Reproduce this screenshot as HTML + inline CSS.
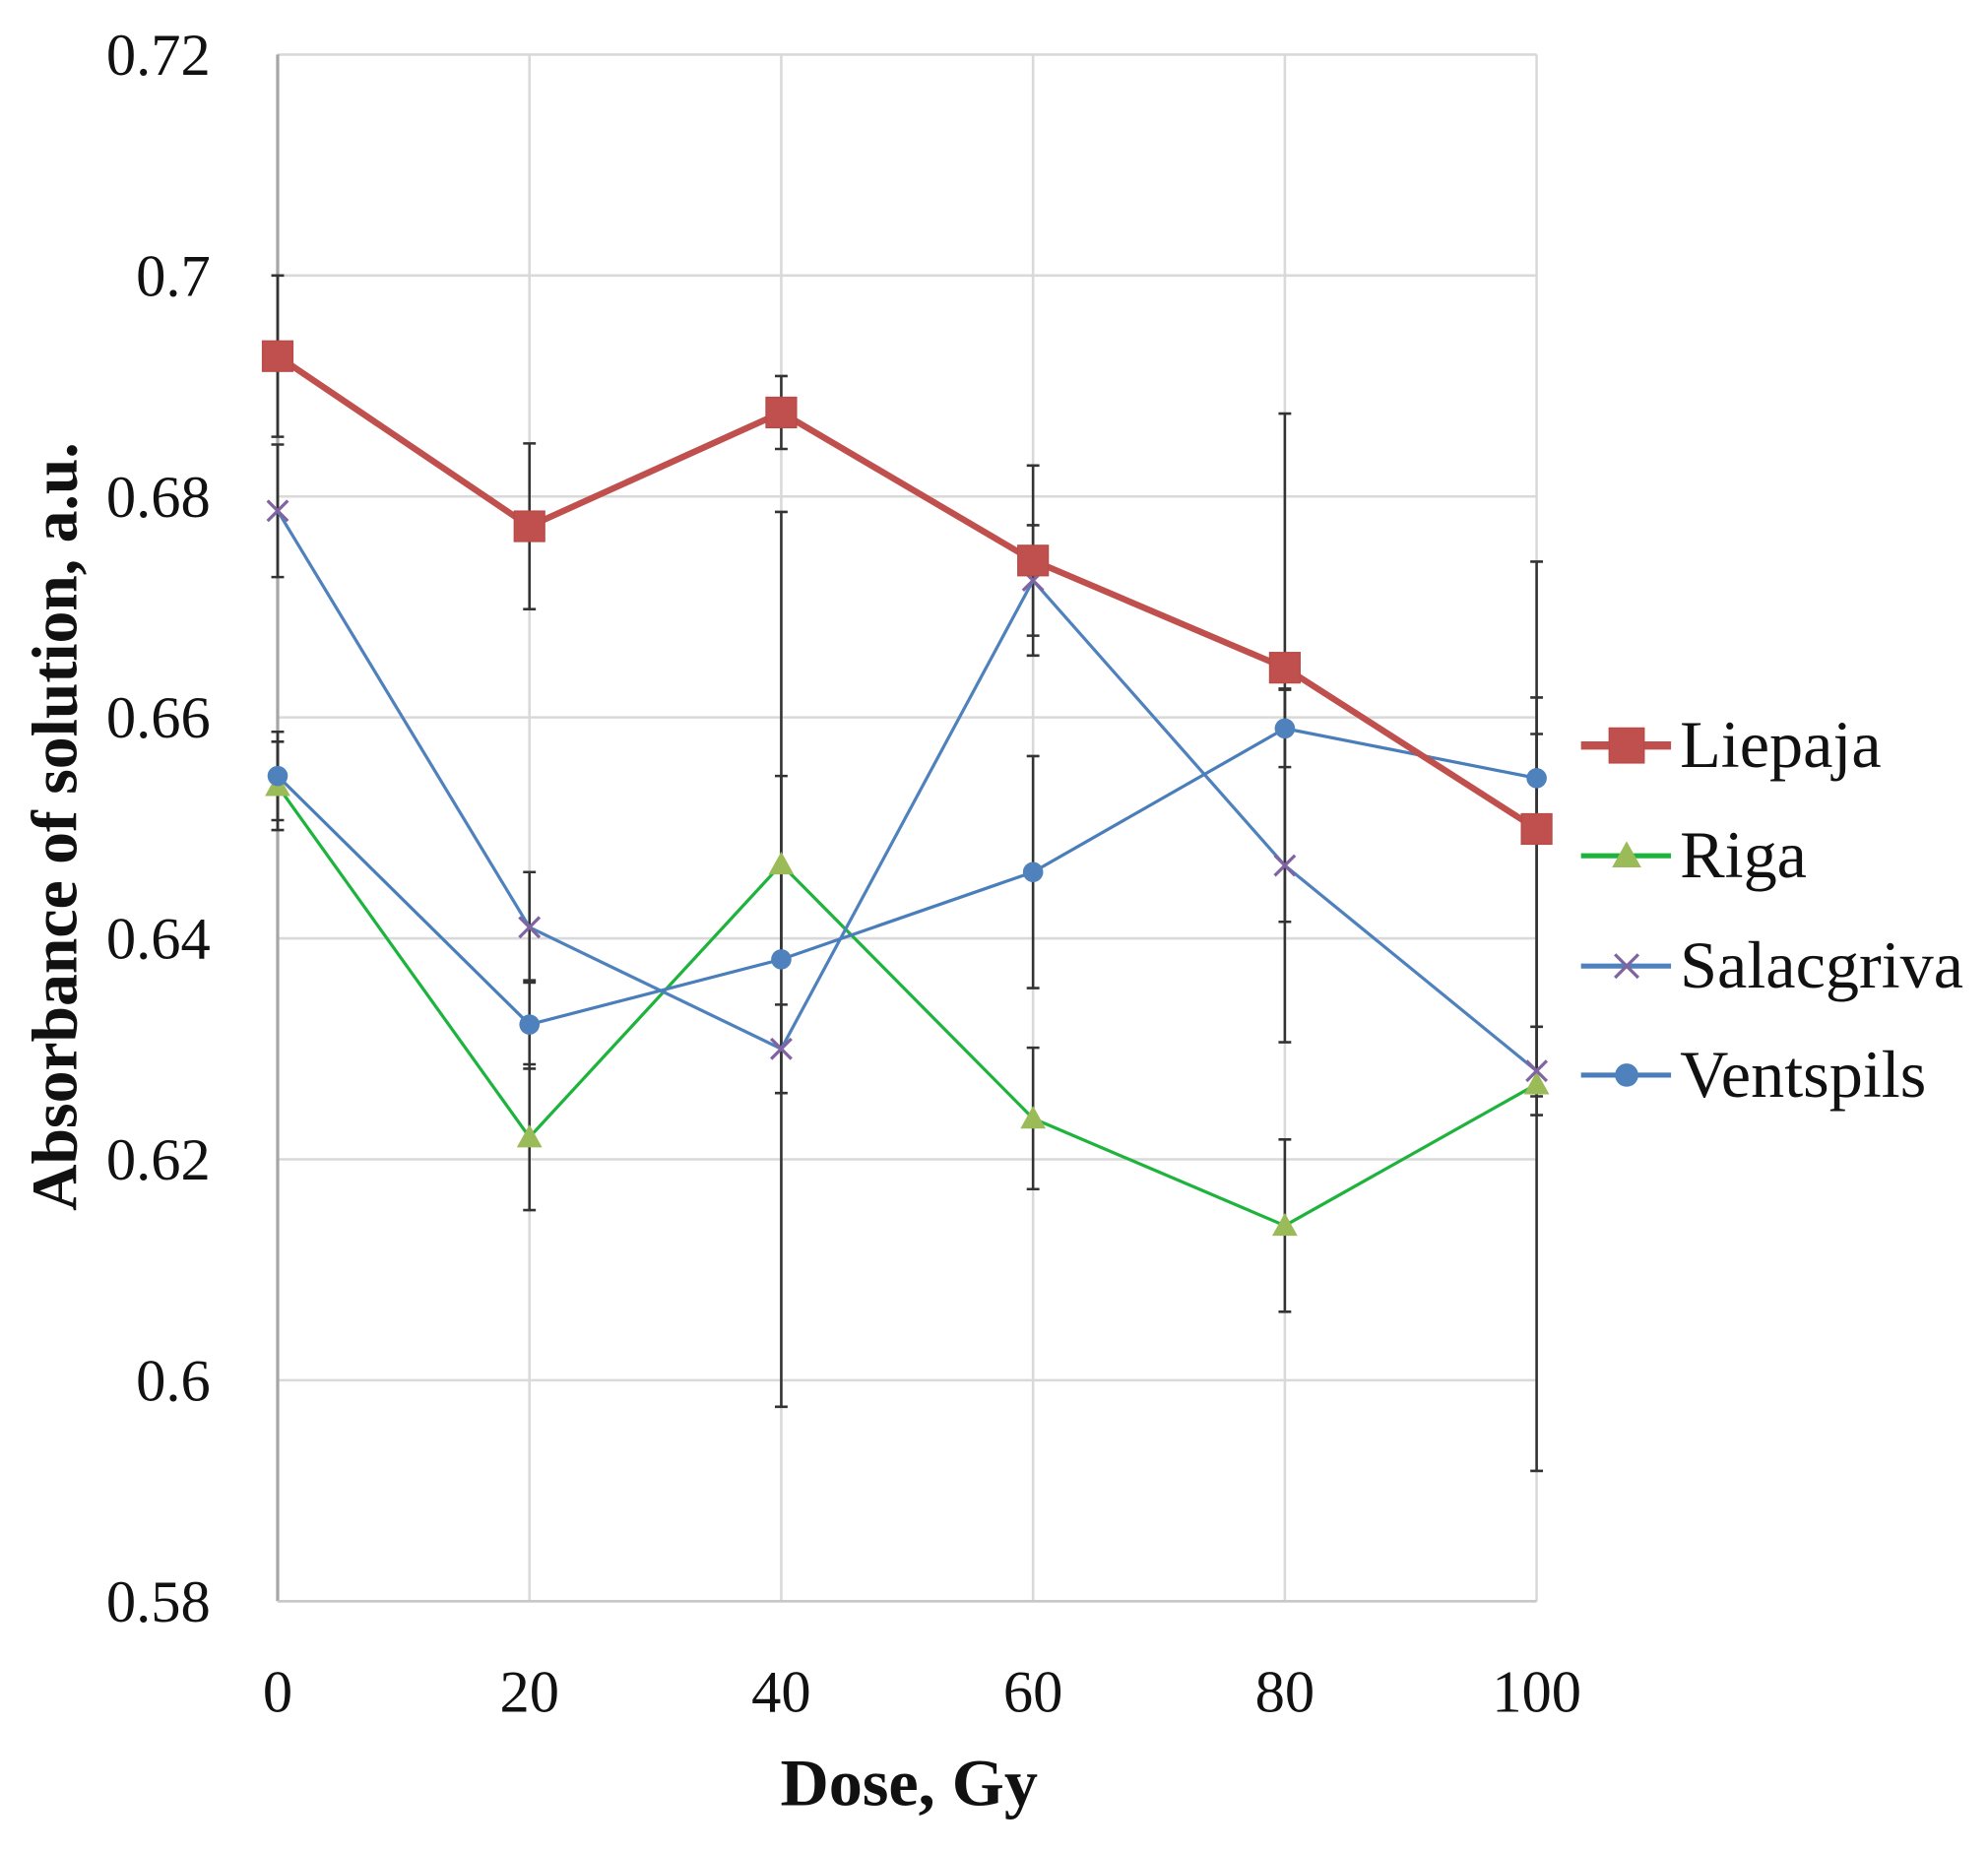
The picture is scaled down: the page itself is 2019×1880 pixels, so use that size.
<!DOCTYPE html>
<html><head><meta charset="utf-8"><style>
html,body{margin:0;padding:0;background:#fff;}
svg{display:block;}
text{font-family:"Liberation Serif",serif;fill:#111;}
</style></head><body>
<svg id="chart" width="2019" height="1880" viewBox="0 0 1568 1460" xmlns="http://www.w3.org/2000/svg">
<g id="grid"></g>
<g id="axes"></g>
<g id="series"></g>
<text transform="translate(60,652) rotate(-90)" text-anchor="middle" font-size="51" font-weight="bold">Absorbance of solution, a.u.</text>
<text x="717" y="1424" text-anchor="middle" font-size="53" font-weight="bold">Dose, Gy</text>
<g id="legend"></g>
</svg>
<script>
const doses = [0, 20, 40, 60, 80, 100];
const yTicks = [0.58, 0.6, 0.62, 0.64, 0.66, 0.68, 0.7, 0.72];
const yTickLabels = ["0.58", "0.6", "0.62", "0.64", "0.66", "0.68", "0.7", "0.72"];
const xTickLabels = ["0", "20", "40", "60", "80", "100"];
const seriesNames = ["Liepaja", "Riga", "Salacgriva", "Ventspils"];
const liepaja = [0.6927, 0.6773, 0.6876, 0.6742, 0.6645, 0.6499];
const liepajaErr = [0.0073, 0.0075, 0.0033, 0.0086, 0.023, 0.0242];
const riga = [0.6538, 0.622, 0.6467, 0.6237, 0.614, 0.6268];
const rigaErr = [0.004, 0.0066, 0.008, 0.0064, 0.0078, 0.035];
const salacgriva = [0.6787, 0.641, 0.630, 0.6724, 0.6466, 0.628];
const salacgrivaErr = [0.006, 0.005, 0.004, 0.005, 0.016, 0.004];
const ventspils = [0.6547, 0.6322, 0.6381, 0.646, 0.659, 0.6545];
const ventspilsErr = [0.004, 0.004, 0.0405, 0.0105, 0.0035, 0.004];

const NS = "http://www.w3.org/2000/svg";
const X0 = 219, X1 = 1212, Y0 = 1263, Y1 = 43;
const xs = d => X0 + (d - 0) / 100 * (X1 - X0);
const ys = v => Y0 - (v - 0.58) / 0.14 * (Y0 - Y1);
function mk(tag, attrs, parent) {
  const e = document.createElementNS(NS, tag);
  for (const k in attrs) e.setAttribute(k, attrs[k]);
  parent.appendChild(e);
  return e;
}
const grid = document.getElementById('grid');
const axes = document.getElementById('axes');
yTicks.forEach((t, i) => {
  const l = mk('line', {x1: X0, x2: X1, y1: ys(t), y2: ys(t), stroke: '#d9d9d9', 'stroke-width': 2}, grid);
  
  
  const tx = mk('text', {x: 166, y: ys(t) + 16, 'text-anchor': 'end', 'font-size': 47}, axes);
  tx.textContent = yTickLabels[i];
  
  
});
doses.forEach((d, i) => {
  if (i > 0) {
    const l = mk('line', {x1: xs(d), x2: xs(d), y1: Y1, y2: Y0, stroke: '#d9d9d9', 'stroke-width': 2}, grid);
    
    
  }
  const tx = mk('text', {x: xs(d), y: 1350, 'text-anchor': 'middle', 'font-size': 47}, axes);
  tx.textContent = xTickLabels[i];
  
  
});
const ax = mk('line', {x1: X0, x2: X0, y1: Y1, y2: Y0, stroke: '#a6a6a6', 'stroke-width': 2.5}, axes);


const ax2 = mk('line', {x1: X0, x2: X1, y1: Y0, y2: Y0, stroke: '#c8c8c8', 'stroke-width': 2}, axes);



const seriesG = document.getElementById('series');
const defs = [
  {name: 'liepaja', vals: liepaja, err: liepajaErr, color: '#c0504d', w: 5, marker: 'square'},
  {name: 'riga', vals: riga, err: rigaErr, color: '#1db33c', w: 2.5, marker: 'triangle'},
  {name: 'salacgriva', vals: salacgriva, err: salacgrivaErr, color: '#4f81bd', w: 2.5, marker: 'x'},
  {name: 'ventspils', vals: ventspils, err: ventspilsErr, color: '#4a7ebb', w: 2.5, marker: 'circle'}
];
function marker(type, cx, cy, g, k) {
  k = k || 1;
  let m;
  if (type === 'square') m = mk('rect', {x: cx - 12*k, y: cy - 12*k, width: 24*k, height: 24*k, fill: '#c0504d', stroke: '#b94a47', 'stroke-width': 1}, g);
  else if (type === 'triangle') m = mk('polygon', {points: `${cx},${cy-10*k} ${cx-10*k},${cy+8*k} ${cx+10*k},${cy+8*k}`, fill: '#9bbb59'}, g);
  else if (type === 'x') m = mk('path', {d: `M${cx-8*k},${cy-8*k}L${cx+8*k},${cy+8*k}M${cx+8*k},${cy-8*k}L${cx-8*k},${cy+8*k}`, stroke: '#8064a2', 'stroke-width': 2.5, fill: 'none'}, g);
  else m = mk('circle', {cx: cx, cy: cy, r: 8*k, fill: '#4f81bd'}, g);
  return m;
}
defs.forEach(s => {
  const g = mk('g', {}, seriesG);
  
  
  s.vals.forEach((v, i) => {
    const x = xs(doses[i]), yt = ys(v + s.err[i]), yb = ys(v - s.err[i]);
    const p = mk('path', {d: `M${x},${yt}V${yb}M${x-5},${yt}H${x+5}M${x-5},${yb}H${x+5}`, stroke: '#333', 'stroke-width': 2, fill: 'none'}, g);
    
    
  });
});
[defs[1], defs[2], defs[3], defs[0]].forEach(s => {
  const g = mk('g', {}, seriesG);
  
  
  const pts = s.vals.map((v, i) => xs(doses[i]) + ',' + ys(v)).join(' ');
  const pl = mk('polyline', {points: pts, fill: 'none', stroke: s.color, 'stroke-width': s.w, 'stroke-linejoin': 'round'}, g);
  
  
  s.vals.forEach((v, i) => {
    const m = marker(s.marker, xs(doses[i]), ys(v), g);
    
    
  });
});
const leg = document.getElementById('legend');
const legY = [588, 675, 762, 848];
defs.forEach((s, i) => {
  const g = mk('g', {}, leg);
  
  
  const y = legY[i];
  mk('line', {x1: 1247, x2: 1318, y1: y, y2: y, stroke: s.color, 'stroke-width': s.w + 1.5}, g);
  marker(s.marker, 1283, y, g, 1.15);
  const t = mk('text', {x: 1325, y: y + 17, 'font-size': 53}, g);
  t.textContent = seriesNames[i];
});
</script>
</body></html>
